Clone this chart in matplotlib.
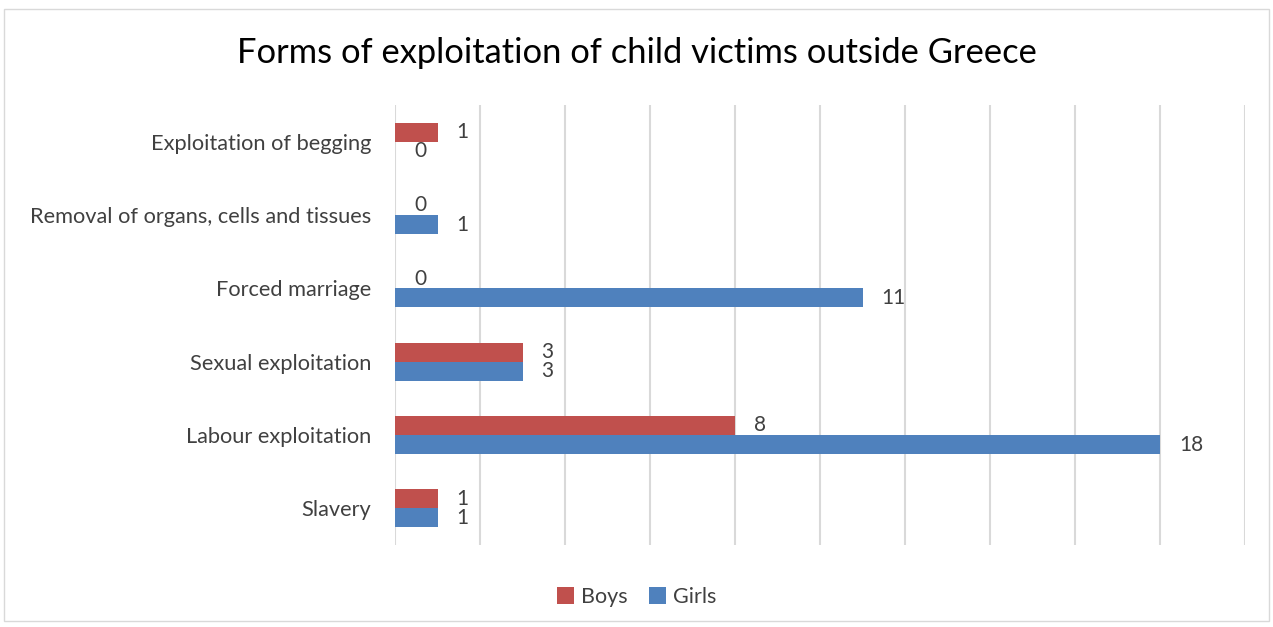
import numpy as np
import matplotlib.pyplot as plt
from matplotlib.patches import Rectangle

plt.rcParams['font.family'] = ['Lato', 'DejaVu Sans']

categories = ['Slavery', 'Labour exploitation', 'Sexual exploitation', 'Forced marriage',
              'Removal of organs, cells and tissues', 'Exploitation of begging']
boys = [1, 8, 3, 0, 0, 1]
girls = [1, 18, 3, 11, 1, 0]

red = '#C0504D'
blue = '#4F81BD'
txt = '#404040'

fig = plt.figure(figsize=(12.73, 6.27), dpi=100)
ax = fig.add_axes([395/1273, 1-545/627, 850/1273, 440/627])

y = np.arange(len(categories))
h = 0.26
ax.barh(y + h/2, boys, height=h, color=red, label='Boys', zorder=3)
ax.barh(y - h/2, girls, height=h, color=blue, label='Girls', zorder=3)

for i in range(len(categories)):
    ax.text(boys[i] + 0.45, y[i] + h/2, str(boys[i]), va='center', ha='left', fontsize=15, color=txt)
    ax.text(girls[i] + 0.45, y[i] - h/2, str(girls[i]), va='center', ha='left', fontsize=15, color=txt)

ax.set_xlim(0, 20)
ax.set_ylim(-0.5, 5.5)
ax.set_xticks(np.arange(0, 21, 2))
ax.set_xticklabels([])
ax.tick_params(axis='x', length=0)
ax.tick_params(axis='y', length=0, pad=17, labelsize=15.7, labelcolor=txt)
ax.set_yticks(y)
ax.set_yticklabels(categories)
ax.grid(axis='x', color='#d9d9d9', linewidth=1.5, zorder=0)
for s in ax.spines.values():
    s.set_visible(False)

fig.text(0.5, 1-53/627, 'Forms of exploitation of child victims outside Greece',
         ha='center', va='center', fontsize=24.8, color='black')

fig.legend(loc='center', bbox_to_anchor=(0.5, 1-597/627), ncol=2, frameon=False,
           fontsize=15.5, labelcolor=txt, handlelength=0.8, handleheight=0.8,
           columnspacing=1.0, handletextpad=0.3)

fig.patches.append(Rectangle((0.003, 0.01), 0.994, 0.975, transform=fig.transFigure,
                             fill=False, edgecolor='#d9d9d9', linewidth=1))

fig.savefig('out.png', dpi=100)
